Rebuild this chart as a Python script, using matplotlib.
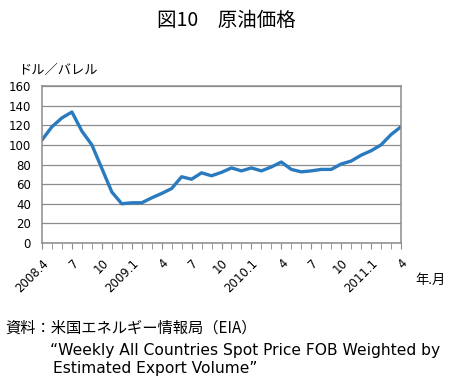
import numpy as np
import matplotlib
matplotlib.use("Agg")
import matplotlib.pyplot as plt

plt.rcParams['font.family'] = ['Noto Sans CJK JP', 'DejaVu Sans']

# monthly crude price, 2008.4 .. 2011.4 (dollars per barrel)
prices = [105, 118.5, 127.5, 133.5, 114, 100, 76, 52, 40, 41, 41, 46, 50.5,
          55.5, 67.5, 65, 71.5, 68.5, 72, 76.5, 73.5, 76.5, 73.5, 77.5, 82.5,
          75, 72.5, 73.5, 75, 75, 80.5, 83.5, 89.5, 94, 100, 110.5, 118.5]
tick_pos = list(range(0, 37, 3))
tick_labels = ["2008.4", "7", "10", "2009.1", "4", "7", "10", "2010.1",
               "4", "7", "10", "2011.1", "4"]

fig = plt.figure(figsize=(4.53, 3.85), dpi=100)
ax = fig.add_axes([42 / 453, 1 - 243 / 385, 359 / 453, 157 / 385])

months = np.arange(len(prices))
ax.plot(months, prices, color="#2a7abf", linewidth=2.4, solid_capstyle="round")

ax.set_xlim(0, 36)
ax.set_ylim(0, 160)
ax.set_yticks(range(0, 161, 20))
ax.yaxis.grid(True, color="#8c8c8c", linewidth=0.9)
ax.set_axisbelow(True)
ax.tick_params(axis="y", length=0, pad=8)
for lab in ax.get_yticklabels():
    lab.set_family("DejaVu Sans")
    lab.set_fontsize(8.5)

ax.set_xticks(tick_pos)
ax.set_xticklabels(tick_labels, rotation=45, ha="right", rotation_mode="anchor",
                   fontsize=8.5, family="DejaVu Sans")
ax.set_xticks(months, minor=True)
ax.tick_params(axis="x", which="both", length=4, color="#8c8c8c", pad=6)

for side in ["left", "right", "bottom", "top"]:
    ax.spines[side].set_color("#8c8c8c")
    ax.spines[side].set_linewidth(1.1)

fig.text(0.5, 1 - 20 / 385, "図10　原油価格", ha="center", va="center",
         fontsize=14)
fig.text(18 / 453, 1 - 70 / 385, "ドル／バレル", ha="left", va="center", fontsize=9.5)
fig.text(415 / 453, 1 - 280 / 385, "年.月", ha="left", va="center", fontsize=9.5)

fig.text(5 / 453, 1 - 328 / 385, "資料：米国エネルギー情報局（EIA）",
         ha="left", va="center", fontsize=11)
fig.text(50 / 453, 1 - 350 / 385,
         "\u201cWeekly All Countries Spot Price FOB Weighted by",
         ha="left", va="center", fontsize=11.2, family="DejaVu Sans")
fig.text(53 / 453, 1 - 369 / 385, "Estimated Export Volume\u201d",
         ha="left", va="center", fontsize=11.2, family="DejaVu Sans")

fig.savefig("out.png", dpi=100)
